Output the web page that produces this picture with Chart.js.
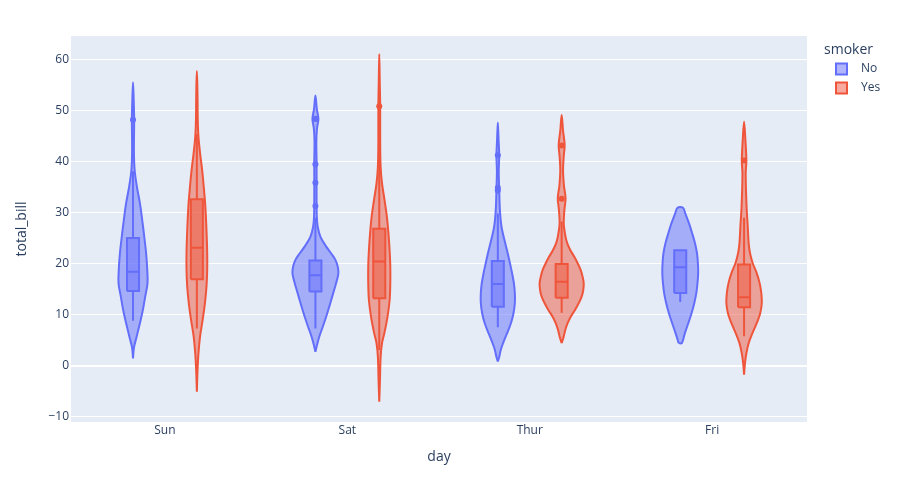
<!DOCTYPE html>
<html>
<head>
<meta charset="utf-8">
<title>total_bill by day</title>
<script src="https://cdn.jsdelivr.net/npm/chart.js@4.4.1/dist/chart.umd.min.js"></script>
<style>
  html, body { margin: 0; padding: 0; background: #fff; }
</style>
</head>
<body>
<canvas id="violinChart" width="897" height="488"></canvas>
<script>
const days = ["Sun", "Sat", "Thur", "Fri"];
const smokers = ["No", "Yes"];
const yTicks = [-10, 0, 10, 20, 30, 40, 50, 60];

// violin outlines: total_bill levels and the relative density at each level
const sunNoLevels = [1.4, 3.5, 5.7, 8.3, 10.9, 13.5, 16.1, 18.7, 22, 25.2, 28.5, 31.8, 35, 38.3, 42, 48.2, 52, 55.5];
const sunNoDensity = [0, 0.04, 0.16, 0.3, 0.43, 0.53, 0.63, 0.62, 0.57, 0.49, 0.4, 0.3, 0.17, 0.07, 0.04, 0.05, 0.03, 0];
const sunYesLevels = [-5.1, -0.9, 2.4, 5.7, 8.9, 12.2, 15.5, 18.7, 22, 25.2, 28.5, 31.8, 35, 38.3, 41.6, 44.8, 48, 52, 55, 57.7];
const sunYesDensity = [0, 0.03, 0.07, 0.14, 0.25, 0.35, 0.42, 0.45, 0.45, 0.43, 0.4, 0.36, 0.3, 0.23, 0.14, 0.07, 0.04, 0.03, 0.02, 0];
const satNoLevels = [2.7, 4.4, 5.7, 7.6, 9.6, 11.5, 13.5, 15.5, 16.8, 18.1, 19.4, 20.7, 22, 23.3, 25.2, 27.2, 29.2, 33, 37, 40, 44, 46.5, 48.3, 50.3, 52.9];
const satNoDensity = [0, 0.09, 0.17, 0.32, 0.47, 0.6, 0.73, 0.86, 0.94, 1.0, 0.97, 0.87, 0.68, 0.47, 0.22, 0.1, 0.06, 0.05, 0.05, 0.05, 0.04, 0.07, 0.13, 0.06, 0];
const satYesLevels = [-7.1, -3, 1.7, 4.4, 6.3, 9.6, 12.8, 16.1, 19.4, 22.6, 25.9, 29.2, 32.4, 35.7, 38.9, 44, 50.8, 56, 61];
const satYesDensity = [0, 0.03, 0.06, 0.12, 0.22, 0.36, 0.45, 0.48, 0.48, 0.45, 0.4, 0.33, 0.23, 0.12, 0.06, 0.04, 0.04, 0.02, 0];
const thurNoLevels = [0.8, 1.7, 3.1, 4.4, 6.3, 8.3, 10.2, 12.2, 14.2, 16.1, 18.1, 20, 22, 24, 27.2, 30.5, 34.5, 38, 41.2, 44.5, 47.6];
const thurNoDensity = [0, 0.06, 0.13, 0.23, 0.4, 0.57, 0.68, 0.74, 0.74, 0.7, 0.62, 0.53, 0.43, 0.32, 0.16, 0.09, 0.06, 0.04, 0.06, 0.03, 0];
const thurYesLevels = [4.4, 5.7, 7, 8.3, 9.6, 10.9, 12.2, 13.5, 14.8, 16.1, 17.4, 18.7, 20, 21.3, 22.6, 24, 25.2, 27.8, 30.5, 32.8, 35.2, 38.3, 41, 43.2, 46, 49.1];
const thurYesDensity = [0, 0.09, 0.16, 0.26, 0.4, 0.58, 0.74, 0.87, 0.94, 0.96, 0.91, 0.83, 0.7, 0.55, 0.38, 0.24, 0.17, 0.09, 0.12, 0.17, 0.1, 0.06, 0.09, 0.13, 0.06, 0];
const friNoLevels = [4.4, 6.3, 8.3, 10.2, 12.2, 14.2, 16.1, 18.1, 20, 22, 24, 25.9, 27.9, 29.8, 30.9];
const friNoDensity = [0.07, 0.2, 0.35, 0.49, 0.61, 0.7, 0.75, 0.78, 0.77, 0.73, 0.64, 0.52, 0.38, 0.22, 0.12];
const friYesLevels = [-1.8, 0.5, 2.4, 4.4, 6.3, 8.3, 10.2, 12.2, 14.2, 16.1, 18.1, 20, 22, 24, 27.3, 31, 37.5, 40.1, 44, 47.8];
const friYesDensity = [0, 0.04, 0.1, 0.2, 0.36, 0.55, 0.7, 0.77, 0.75, 0.68, 0.55, 0.38, 0.26, 0.2, 0.16, 0.11, 0.07, 0.1, 0.06, 0];

// box statistics, one entry per day
const noLower = [8.77, 7.25, 7.51, 12.46];
const noQ1 = [14.6, 14.5, 11.5, 14.2];
const noMedian = [18.4, 17.7, 16.0, 19.25];
const noQ3 = [25.0, 20.6, 20.5, 22.6];
const noUpper = [38.07, 28.97, 29.8, 22.6];
const yesLower = [7.25, 3.07, 10.34, 5.75];
const yesQ1 = [16.9, 13.2, 13.3, 11.4];
const yesMedian = [23.1, 20.4, 16.4, 13.4];
const yesQ3 = [32.6, 26.8, 19.9, 19.8];
const yesUpper = [45.35, 44.3, 28.2, 28.97];
const noOutliers = [[48.17], [48.27, 48.33, 39.42, 35.83, 31.27], [41.19, 34.83, 34.3], []];
const yesOutliers = [[], [50.81], [43.11, 32.68], [40.17]];

const noLevels = [sunNoLevels, satNoLevels, thurNoLevels, friNoLevels];
const noDensity = [sunNoDensity, satNoDensity, thurNoDensity, friNoDensity];
const yesLevels = [sunYesLevels, satYesLevels, thurYesLevels, friYesLevels];
const yesDensity = [sunYesDensity, satYesDensity, thurYesDensity, friYesDensity];

const lineColors = { No: "#636efa", Yes: "#EF553B" };
const fillColors = { No: "rgba(99,110,250,0.5)", Yes: "rgba(239,85,59,0.5)" };
const groupOffset = { No: -0.175, Yes: 0.175 };
const DENSITY_WIDTH = 0.126;
const BOX_HALF = 0.033;
const FONT = "'Open Sans', verdana, arial, sans-serif";
const TEXT = "#2a3f5f";

function violinOutline(center, levels, dens) {
  const left = levels.map((v, i) => ({ x: center - dens[i] * DENSITY_WIDTH, y: v }));
  const right = levels.map((v, i) => ({ x: center + dens[i] * DENSITY_WIDTH, y: v })).reverse();
  if (dens[dens.length - 1] === 0) right.shift();
  const pts = left.concat(right);
  if (dens[0] !== 0) pts.push(left[0]);
  return pts;
}

function buildDatasets() {
  const sets = [];
  smokers.forEach((s) => {
    const levels = s === "No" ? noLevels : yesLevels;
    const dens = s === "No" ? noDensity : yesDensity;
    const lo = s === "No" ? noLower : yesLower;
    const q1 = s === "No" ? noQ1 : yesQ1;
    const med = s === "No" ? noMedian : yesMedian;
    const q3 = s === "No" ? noQ3 : yesQ3;
    const hi = s === "No" ? noUpper : yesUpper;
    const outs = s === "No" ? noOutliers : yesOutliers;
    days.forEach((d, i) => {
      const c = i + groupOffset[s];
      const base = { showLine: true, pointRadius: 0, borderColor: lineColors[s], borderWidth: 2 };
      sets.push(Object.assign({}, base, {
        label: s, data: violinOutline(c, levels[i], dens[i]),
        fill: "shape", backgroundColor: fillColors[s], tension: 0.35, order: 3,
      }));
      sets.push(Object.assign({}, base, {
        label: s,
        data: [
          { x: c - BOX_HALF, y: q1[i] }, { x: c - BOX_HALF, y: q3[i] },
          { x: c + BOX_HALF, y: q3[i] }, { x: c + BOX_HALF, y: q1[i] },
          { x: c - BOX_HALF, y: q1[i] },
        ],
        fill: "shape", backgroundColor: fillColors[s], tension: 0, order: 2,
      }));
      sets.push(Object.assign({}, base, {
        label: s,
        data: [
          { x: c, y: lo[i] }, { x: c, y: q1[i] }, { x: c, y: null },
          { x: c, y: q3[i] }, { x: c, y: hi[i] }, { x: c, y: null },
          { x: c - BOX_HALF, y: med[i] }, { x: c + BOX_HALF, y: med[i] },
        ],
        fill: false, tension: 0, order: 1,
      }));
      sets.push({
        label: s, data: outs[i].map((v) => ({ x: c, y: v })),
        showLine: false, pointRadius: 3, pointBorderWidth: 0,
        pointBackgroundColor: lineColors[s], order: 0,
      });
    });
  });
  return sets;
}

const plotBackground = {
  id: "plotBackground",
  beforeDraw(chart) {
    const { ctx, chartArea: a } = chart;
    ctx.save();
    ctx.fillStyle = "#E5ECF6";
    ctx.fillRect(a.left, a.top, a.width, a.height);
    ctx.restore();
  },
};

// plotly style legend on the right
const smokerLegend = {
  id: "smokerLegend",
  afterDraw(chart) {
    const ctx = chart.ctx;
    const x = chart.chartArea.right + 17;
    ctx.save();
    ctx.fillStyle = TEXT;
    ctx.textBaseline = "middle";
    ctx.font = "14px " + FONT;
    ctx.fillText("smoker", x, 50);
    ctx.font = "12px " + FONT;
    smokers.forEach((s, i) => {
      const y = 69 + i * 19;
      ctx.fillStyle = fillColors[s];
      ctx.fillRect(x + 12, y - 5.5, 11, 11);
      ctx.strokeStyle = lineColors[s];
      ctx.lineWidth = 2;
      ctx.strokeRect(x + 12, y - 5.5, 11, 11);
      ctx.fillStyle = TEXT;
      ctx.fillText(s, x + 37, y);
    });
    ctx.restore();
  },
};

document.addEventListener("DOMContentLoaded", () => {
  Chart.defaults.font.family = FONT;
  Chart.defaults.font.size = 12;
  Chart.defaults.color = TEXT;
  const ctx = document.getElementById("violinChart").getContext("2d");
  new Chart(ctx, {
    type: "scatter",
    data: { datasets: buildDatasets() },
    plugins: [plotBackground, smokerLegend],
    options: {
      responsive: false,
      animation: false,
      events: [],
      layout: { padding: { left: 0, top: 36, right: 90, bottom: 0 } },
      plugins: { legend: { display: false }, tooltip: { enabled: false } },
      scales: {
        x: {
          type: "linear",
          min: -0.515,
          max: 3.52,
          afterBuildTicks: (scale) => { scale.ticks = days.map((d, i) => ({ value: i })); },
          afterFit: (scale) => { scale.height = 66; },
          ticks: { padding: 1, maxRotation: 0, autoSkip: false, callback: (v) => days[v] },
          grid: { display: false, drawTicks: false },
          border: { display: false },
          title: { display: true, text: "day", font: { size: 14 }, padding: { top: 23, bottom: 23 } },
        },
        y: {
          min: -11.05,
          max: 64.55,
          afterBuildTicks: (scale) => { scale.ticks = yTicks.map((v) => ({ value: v })); },
          afterFit: (scale) => { scale.width = 71; },
          ticks: { padding: 2, callback: (v) => (v < 0 ? "\u2212" + Math.abs(v) : String(v)) },
          grid: {
            color: "#ffffff",
            drawTicks: false,
            lineWidth: (c) => (c.tick && c.tick.value === 0 ? 2 : 1),
          },
          border: { display: false },
          title: { display: true, text: "total_bill", font: { size: 14 }, padding: { top: 14, bottom: 0 } },
        },
      },
    },
  });
});
</script>
</body>
</html>
